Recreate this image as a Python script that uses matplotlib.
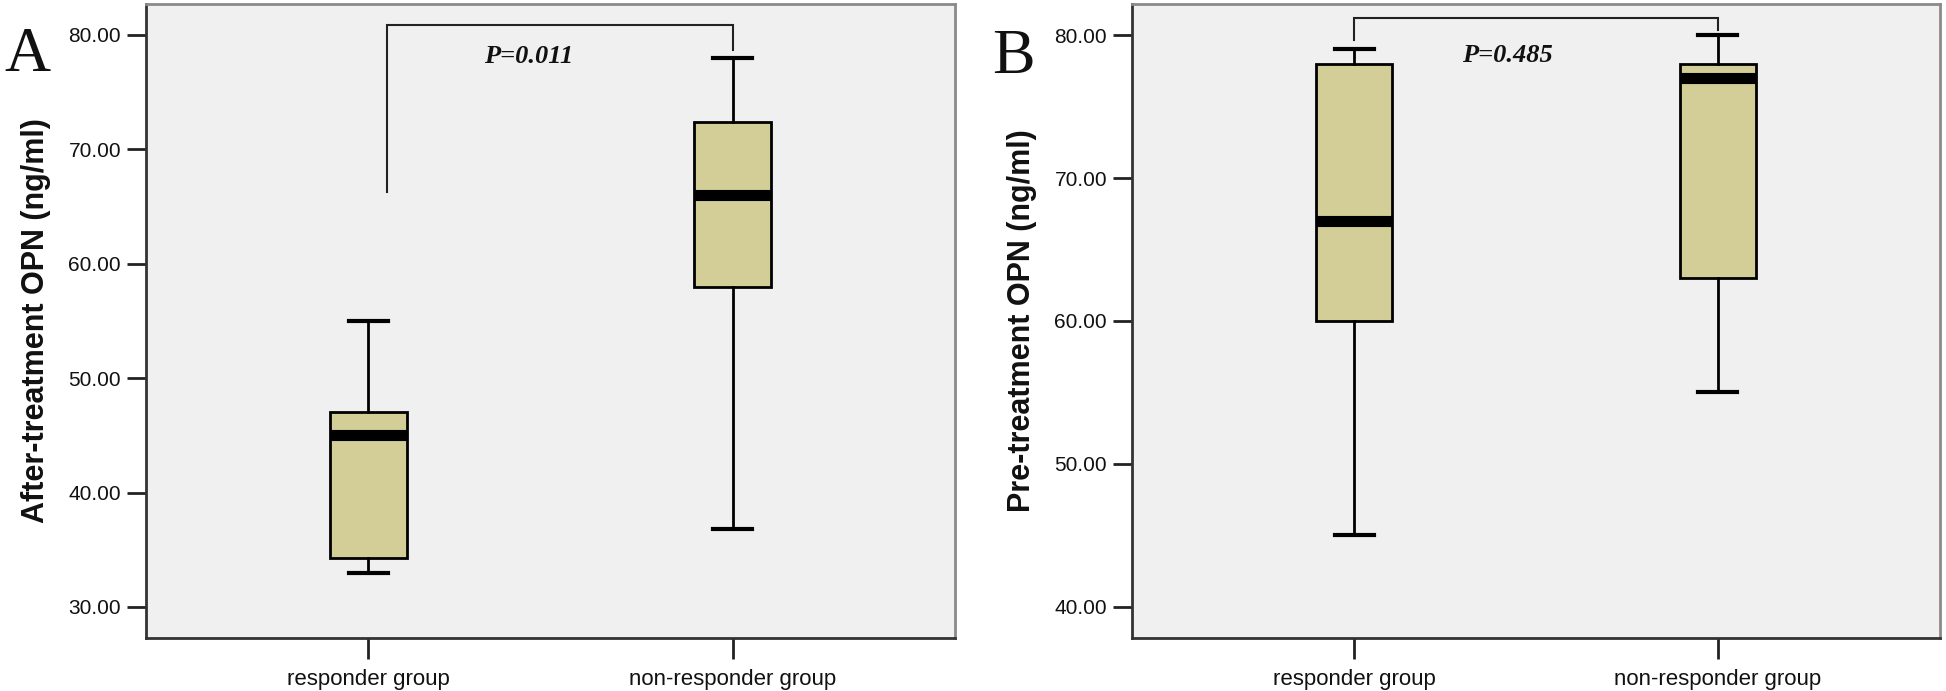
import matplotlib
matplotlib.use("Agg")
import matplotlib.pyplot as plt

# ---- data ----
groups = ["responder group", "non-responder group"]

# Panel A: After-treatment OPN (ng/ml)
a_whislo = [33.0, 36.8]
a_q1 = [34.3, 58.0]
a_med = [45.0, 66.0]
a_q3 = [47.0, 72.4]
a_whishi = [55.0, 78.0]
a_pvalue = "P=0.011"

# Panel B: Pre-treatment OPN (ng/ml)
b_whislo = [45.0, 55.0]
b_q1 = [60.0, 63.0]
b_med = [67.0, 77.0]
b_q3 = [78.0, 78.0]
b_whishi = [79.0, 80.0]
b_pvalue = "P=0.485"

a_yticks = [30, 40, 50, 60, 70, 80]
b_yticks = [40, 50, 60, 70, 80]

BOX_COLOR = "#D3CE97"
BG = "#F0F0F0"

plt.rcParams["font.family"] = ["Liberation Sans", "DejaVu Sans"]

W, H = 1946, 691
fig = plt.figure(figsize=(W / 100, H / 100), dpi=100)
fig.patch.set_facecolor("white")


def panel(rect, whislo, q1, med, q3, whishi, ylim, yticks, ylabel, pval,
          bracket, ptext_xy):
    ax = fig.add_axes(rect)
    ax.set_facecolor(BG)
    stats = []
    for i, g in enumerate(groups):
        stats.append(dict(label=g, whislo=whislo[i], q1=q1[i], med=med[i],
                          q3=q3[i], whishi=whishi[i], fliers=[]))
    positions = [1, 2]
    ax.bxp(stats, positions=positions, widths=0.21, patch_artist=True,
           showfliers=False,
           boxprops=dict(facecolor=BOX_COLOR, edgecolor="black", linewidth=2.0),
           medianprops=dict(color="black", linewidth=8, solid_capstyle="butt"),
           whiskerprops=dict(color="black", linewidth=2.0),
           capprops=dict(color="black", linewidth=3.0),
           capwidths=0.107)
    ax.set_xlim(0.389, 2.611)
    ax.set_ylim(*ylim)
    ax.set_xticks(positions)
    ax.set_xticklabels(groups, fontsize=16, color="#111111")
    ax.set_yticks(yticks)
    ax.set_yticklabels([f"{v:.2f}" for v in yticks], fontsize=15, color="#111111")
    ax.tick_params(axis="y", length=14, width=2, direction="out", pad=4,
                   color="#222222")
    ax.tick_params(axis="x", length=15, width=2, direction="out", pad=7,
                   color="#222222")
    ax.set_ylabel(ylabel, fontsize=22, fontweight="bold", color="#111111")
    ax.yaxis.set_label_coords(-0.117, 0.5)
    for s in ["left", "bottom"]:
        ax.spines[s].set_color("#333333")
        ax.spines[s].set_linewidth(2.0)
    for s in ["top", "right"]:
        ax.spines[s].set_color("#8a8a8a")
        ax.spines[s].set_linewidth(2.0)
    # significance bracket
    (x1, y1bot), (x2, y2bot), ytop = bracket
    ax.plot([x1, x1, x2, x2], [y1bot, ytop, ytop, y2bot], color="#222222",
            linewidth=1.5, solid_joinstyle="miter")
    ax.text(ptext_xy[0], ptext_xy[1], pval, fontsize=19, fontstyle="italic",
            fontweight="bold", family="Liberation Serif", ha="center",
            va="center", color="#111111")
    return ax


panel([146 / W, 53 / H, 809 / W, 634 / H], a_whislo, a_q1, a_med, a_q3,
      a_whishi, (27.29, 82.7), a_yticks, "After-treatment OPN (ng/ml)",
      a_pvalue, ((1.05, 66.3), (2.0, 78.7), 80.87), (1.44, 78.1))

panel([1132 / W, 53 / H, 808 / W, 634 / H], b_whislo, b_q1, b_med, b_q3,
      b_whishi, (37.83, 82.17), b_yticks, "Pre-treatment OPN (ng/ml)",
      b_pvalue, ((1.0, 79.65), (2.0, 80.35), 81.2), (1.42, 78.6))

fig.text(27 / W, (H - 71) / H, "A", fontsize=46, family="Liberation Serif",
         ha="center", va="baseline", color="#111111")
fig.text(1013 / W, (H - 73) / H, "B", fontsize=46, family="Liberation Serif",
         ha="center", va="baseline", color="#111111")

fig.savefig("out.png", dpi=100, facecolor="white")
